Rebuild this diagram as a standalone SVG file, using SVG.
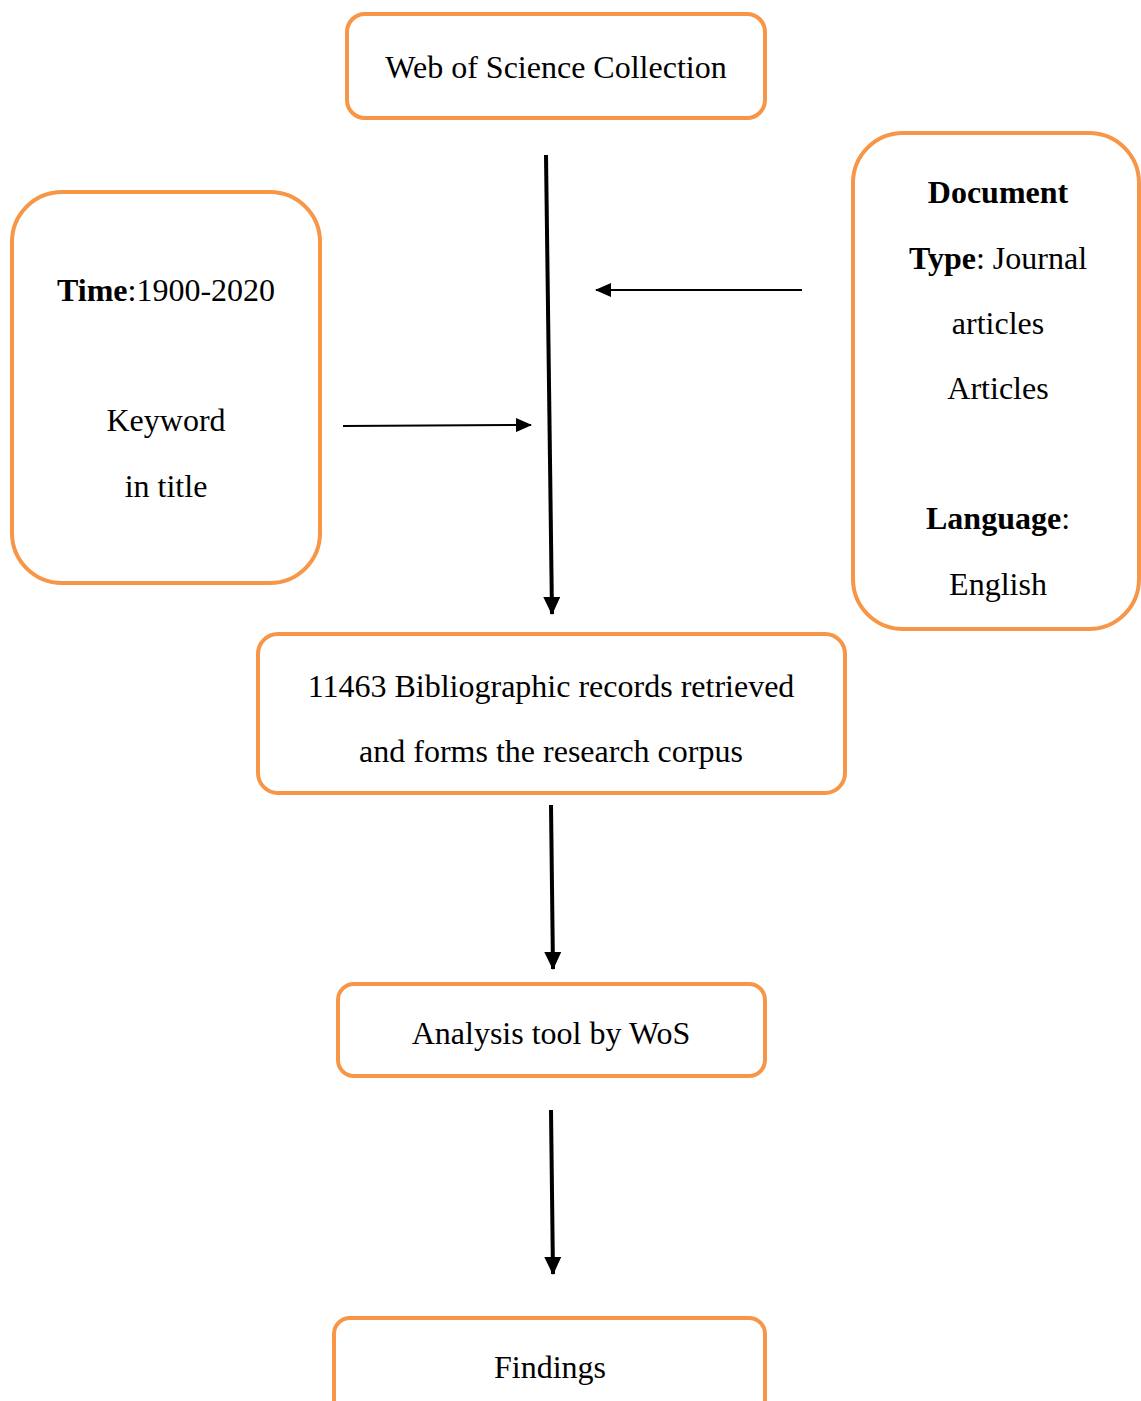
<svg xmlns="http://www.w3.org/2000/svg" width="1141" height="1401" viewBox="0 0 1141 1401">
<style>
.box{fill:#fff;stroke:#F79646;stroke-width:4}
.t{font-family:"Liberation Serif","Times New Roman",serif;font-size:32px;fill:#000;text-anchor:middle}
.b{font-weight:bold}
.thick{stroke:#000;stroke-width:4;fill:none}
.thin{stroke:#000;stroke-width:2;fill:none}
</style>
<defs>
<marker id="ahT" markerWidth="18" markerHeight="17" refX="17" refY="8.5" orient="auto" markerUnits="userSpaceOnUse">
<path d="M0,0 L18,8.5 L0,17 z" fill="#000"/>
</marker>
<marker id="ahL" markerWidth="16" markerHeight="14" refX="15" refY="7" orient="auto" markerUnits="userSpaceOnUse">
<path d="M0,0 L16,7 L0,14 z" fill="#000"/>
</marker>
</defs>
<rect width="1141" height="1401" fill="#fff"/>
<g id="connectors">
<line class="thick" x1="546" y1="155" x2="552" y2="614" marker-end="url(#ahT)"/>
<line class="thin" x1="802" y1="290" x2="596" y2="290" marker-end="url(#ahL)"/>
<line class="thin" x1="343" y1="426" x2="531" y2="425" marker-end="url(#ahL)"/>
<line class="thick" x1="551" y1="805" x2="553" y2="969" marker-end="url(#ahT)"/>
<line class="thick" x1="551" y1="1110" x2="553" y2="1274" marker-end="url(#ahT)"/>
</g>
<g id="node-wos">
<rect class="box" x="347" y="14" width="418" height="104" rx="18"/>
<text class="t" x="556" y="78">Web of Science Collection</text>
</g>
<g id="node-time">
<rect class="box" x="12" y="192" width="308" height="391" rx="50"/>
<text class="t" x="166" y="301"><tspan class="b">Time</tspan>:1900-2020</text>
<text class="t" x="166" y="431">Keyword</text>
<text class="t" x="166" y="497">in title</text>
</g>
<g id="node-doc">
<rect class="box" x="853" y="133" width="286" height="496" rx="50"/>
<text class="t b" x="998" y="203">Document</text>
<text class="t" x="998" y="269"><tspan class="b">Type</tspan>: Journal</text>
<text class="t" x="998" y="334">articles</text>
<text class="t" x="998" y="399">Articles</text>
<text class="t" x="998" y="529"><tspan class="b">Language</tspan>:</text>
<text class="t" x="998" y="595">English</text>
</g>
<g id="node-records">
<rect class="box" x="258" y="634" width="587" height="159" rx="20"/>
<text class="t" x="551" y="697">11463 Bibliographic records retrieved</text>
<text class="t" x="551" y="762">and forms the research corpus</text>
</g>
<g id="node-analysis">
<rect class="box" x="338" y="984" width="427" height="92" rx="16"/>
<text class="t" x="551" y="1044">Analysis tool by WoS</text>
</g>
<g id="node-findings">
<rect class="box" x="334" y="1318" width="431" height="110" rx="16"/>
<text class="t" x="550" y="1378">Findings</text>
</g>
</svg>
